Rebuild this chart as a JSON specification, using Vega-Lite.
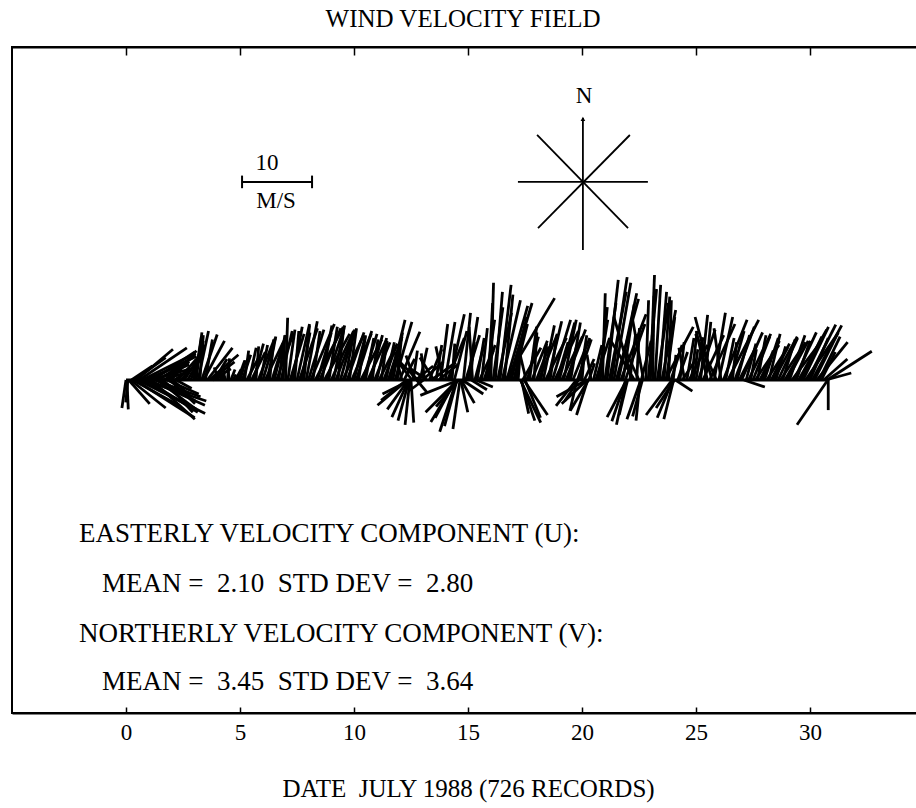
{
"$schema": "https://vega.github.io/schema/vega-lite/v6.json",
"width": 912, "height": 666,
"autosize": "none",
"padding": {"left": 12, "top": 47, "right": 0, "bottom": 95},
"background": "white",
"config": {"view": {"stroke": "black", "strokeWidth": 2}, "font": "Liberation Serif"},
"title": {"text": "WIND VELOCITY FIELD", "font": "Liberation Serif", "fontSize": 25, "fontWeight": "normal", "color": "black", "anchor": "middle", "offset": 14, "dx": -5},
"data": {"values": [{}]},
"datasets": {"sticks": [
{"t":0.00,"e":-0.18,"v":-4.0},{"t":0.04,"e":0.10,"v":-4.2},{"t":0.08,"e":-0.01,"v":-3.2},
{"t":0.12,"e":1.04,"v":-3.4},{"t":0.20,"e":1.74,"v":-4.0},{"t":0.30,"e":2.30,"v":-3.6},{"t":0.40,"e":3.01,"v":-5.4},
{"t":0.52,"e":3.47,"v":-4.8},{"t":0.64,"e":3.10,"v":-4.2},{"t":0.76,"e":3.52,"v":-3.0},{"t":0.88,"e":3.15,"v":-4.6},
{"t":1.00,"e":3.46,"v":-3.6},{"t":1.12,"e":3.02,"v":-5.6},{"t":1.24,"e":3.27,"v":-2.4},{"t":1.36,"e":3.08,"v":-4.2},
{"t":1.50,"e":3.04,"v":-3.0},{"t":1.64,"e":2.93,"v":-4.6},{"t":1.78,"e":3.19,"v":-2.0},{"t":1.92,"e":3.03,"v":-3.4},
{"t":2.06,"e":2.86,"v":-2.4},{"t":2.20,"e":2.88,"v":-1.2},
{"t":0.24,"e":1.16,"v":2.0},{"t":0.36,"e":1.74,"v":3.2},{"t":0.46,"e":2.06,"v":4.4},{"t":0.58,"e":2.67,"v":4.6},
{"t":0.70,"e":3.03,"v":3.8},{"t":0.82,"e":2.78,"v":2.6},{"t":0.94,"e":3.09,"v":3.4},{"t":1.06,"e":2.84,"v":1.6},
{"t":1.18,"e":3.02,"v":4.0},{"t":1.30,"e":2.77,"v":2.2},{"t":1.42,"e":3.02,"v":3.4},{"t":1.56,"e":2.79,"v":1.2},
{"t":1.70,"e":3.05,"v":3.8},{"t":1.84,"e":2.76,"v":2.6},{"t":1.98,"e":3.09,"v":4.2},{"t":2.12,"e":2.86,"v":1.6},
{"t":2.28,"e":3.20,"v":3.4},{"t":2.42,"e":3.10,"v":2.4},{"t":2.56,"e":3.42,"v":4.4},{"t":2.70,"e":3.25,"v":3.0},
{"t":2.84,"e":3.45,"v":5.0},{"t":2.96,"e":3.39,"v":5.6},
{"t":3.00,"e":3.31,"v":6.2},{"t":3.08,"e":3.33,"v":6.8},
{"t":3.16,"e":3.62,"v":7.0},{"t":3.24,"e":3.39,"v":6.4},{"t":3.32,"e":4.00,"v":6.5},{"t":3.40,"e":4.32,"v":5.6},
{"t":3.48,"e":3.79,"v":5.8},{"t":3.56,"e":4.67,"v":4.6},{"t":3.64,"e":4.93,"v":3.6},{"t":3.72,"e":4.76,"v":2.6},
{"t":3.80,"e":4.60,"v":1.6},{"t":3.88,"e":4.43,"v":3.0},{"t":3.96,"e":4.33,"v":1.0},{"t":4.05,"e":3.87,"v":1.8},
{"t":4.15,"e":4.30,"v":1.0},{"t":4.25,"e":4.31,"v":0.6},{"t":4.35,"e":4.23,"v":2.0},{"t":4.45,"e":4.54,"v":3.1},
{"t":4.52,"e":4.46,"v":2.4},{"t":4.60,"e":4.78,"v":1.5},{"t":4.70,"e":4.82,"v":0.8},{"t":4.80,"e":5.05,"v":1.5},
{"t":4.90,"e":5.21,"v":2.8},
{"t":5.0,"e":5.25,"v":2.8},{"t":5.1,"e":5.47,"v":3.6},{"t":5.2,"e":5.38,"v":4.2},{"t":5.3,"e":5.85,"v":3.4},
{"t":5.4,"e":5.71,"v":4.6},{"t":5.5,"e":6.11,"v":4.0},{"t":5.6,"e":6.03,"v":5.2},{"t":5.7,"e":5.82,"v":4.8},
{"t":5.8,"e":6.48,"v":5.6},{"t":5.9,"e":6.21,"v":5.0},{"t":6.0,"e":6.55,"v":6.0},{"t":6.1,"e":6.90,"v":5.4},
{"t":6.2,"e":6.57,"v":6.2},{"t":6.3,"e":6.48,"v":5.8},{"t":6.4,"e":7.01,"v":6.4},{"t":6.5,"e":6.93,"v":5.6},
{"t":6.6,"e":7.34,"v":6.6},{"t":6.7,"e":6.95,"v":6.0},{"t":6.8,"e":7.29,"v":7.0},{"t":6.9,"e":6.96,"v":6.4},
{"t":7.0,"e":7.09,"v":8.9},{"t":7.1,"e":7.41,"v":7.2},{"t":7.2,"e":7.81,"v":6.6},{"t":7.3,"e":7.73,"v":7.6},
{"t":7.4,"e":7.58,"v":7.0},{"t":7.5,"e":8.05,"v":8.0},{"t":7.6,"e":8.40,"v":7.4},{"t":7.7,"e":8.07,"v":6.8},
{"t":7.8,"e":8.05,"v":7.8},{"t":7.9,"e":8.39,"v":8.4},{"t":8.0,"e":8.68,"v":7.2},{"t":8.1,"e":9.14,"v":8.0},
{"t":8.2,"e":8.51,"v":7.0},{"t":8.3,"e":9.53,"v":7.6},{"t":8.4,"e":9.01,"v":6.8},{"t":8.5,"e":9.42,"v":7.4},
{"t":8.6,"e":9.03,"v":7.8},{"t":8.7,"e":9.81,"v":6.6},{"t":8.8,"e":9.54,"v":7.2},{"t":8.9,"e":9.27,"v":7.6},
{"t":9.0,"e":9.98,"v":7.0},{"t":9.1,"e":9.59,"v":7.8},{"t":9.2,"e":10.00,"v":6.8},{"t":9.3,"e":9.55,"v":7.4},
{"t":9.4,"e":10.01,"v":7.0},{"t":9.5,"e":10.42,"v":6.4},{"t":9.6,"e":10.03,"v":7.2},{"t":9.7,"e":10.44,"v":6.8},
{"t":9.8,"e":10.11,"v":7.4},{"t":9.9,"e":10.76,"v":6.6},{"t":10.0,"e":10.49,"v":6.2},{"t":10.1,"e":10.78,"v":7.0},
{"t":10.2,"e":10.51,"v":6.4},{"t":10.3,"e":11.22,"v":5.8},{"t":10.4,"e":11.01,"v":6.6},{"t":10.5,"e":10.87,"v":6.0},
{"t":10.6,"e":11.40,"v":5.6},{"t":10.7,"e":11.25,"v":6.4},{"t":10.8,"e":11.05,"v":5.8},{"t":10.9,"e":11.58,"v":5.4},
{"t":11.0,"e":11.43,"v":6.0},{"t":11.1,"e":11.90,"v":5.2},{"t":11.2,"e":11.45,"v":5.6},{"t":11.3,"e":11.85,"v":4.8},
{"t":11.4,"e":11.77,"v":5.4},{"t":11.5,"e":12.11,"v":6.2},{"t":11.6,"e":12.24,"v":8.6},{"t":11.7,"e":12.13,"v":6.8},
{"t":11.8,"e":12.54,"v":8.3},{"t":11.9,"e":12.08,"v":6.0},{"t":12.0,"e":12.89,"v":6.9},
{"t":12.1,"e":11.79,"v":4.0},{"t":12.2,"e":12.66,"v":3.0},{"t":12.3,"e":11.19,"v":-2.9},{"t":12.35,"e":11.03,"v":-3.6},
{"t":12.38,"e":11.46,"v":-4.2},{"t":12.4,"e":11.66,"v":-5.3},{"t":12.42,"e":11.93,"v":-5.8},{"t":12.45,"e":12.24,"v":-6.4},
{"t":12.48,"e":11.25,"v":-2.0},{"t":12.5,"e":12.62,"v":-6.1},{"t":12.55,"e":11.94,"v":2.5},
{"t":12.6,"e":12.78,"v":4.2},{"t":12.65,"e":12.28,"v":3.5},{"t":12.7,"e":13.47,"v":2.0},{"t":12.75,"e":13.21,"v":-1.8},
{"t":12.8,"e":11.88,"v":3.0},{"t":12.9,"e":13.21,"v":4.6},{"t":13.0,"e":13.92,"v":2.6},{"t":13.05,"e":12.44,"v":-1.5},
{"t":13.1,"e":12.95,"v":3.8},{"t":13.2,"e":12.40,"v":1.8},{"t":13.3,"e":13.85,"v":4.4},{"t":13.4,"e":14.47,"v":2.5},
{"t":13.5,"e":12.89,"v":3.2},{"t":13.6,"e":13.85,"v":5.0},{"t":13.7,"e":14.56,"v":2.2},{"t":13.8,"e":14.11,"v":8.0},
{"t":13.9,"e":13.59,"v":4.8},{"t":14.0,"e":14.43,"v":8.3},{"t":14.1,"e":14.84,"v":6.0},{"t":14.2,"e":14.84,"v":9.4},
{"t":14.3,"e":14.42,"v":5.2},{"t":14.4,"e":14.95,"v":7.0},{"t":14.45,"e":13.56,"v":-5.4},{"t":14.48,"e":13.37,"v":-6.0},
{"t":14.5,"e":13.76,"v":-7.4},{"t":14.52,"e":13.97,"v":-6.6},
{"t":14.55,"e":13.14,"v":-4.6},{"t":14.58,"e":13.60,"v":-3.8},{"t":14.6,"e":12.91,"v":-2.2},{"t":14.65,"e":14.34,"v":-7.0},
{"t":14.68,"e":14.99,"v":-4.6},{"t":14.7,"e":15.28,"v":-3.3},
{"t":14.75,"e":15.67,"v":-2.0},{"t":14.8,"e":15.11,"v":9.6},{"t":14.9,"e":15.51,"v":6.4},{"t":15.0,"e":15.43,"v":9.0},
{"t":15.1,"e":15.28,"v":5.4},{"t":15.15,"e":15.83,"v":-1.4},{"t":15.2,"e":15.05,"v":7.6},{"t":15.3,"e":15.67,"v":4.6},
{"t":15.35,"e":16.09,"v":-1.0},
{"t":15.4,"e":15.71,"v":6.0},{"t":15.5,"e":16.11,"v":4.2},{"t":15.6,"e":15.85,"v":7.4},{"t":15.7,"e":16.19,"v":5.0},
{"t":15.8,"e":16.17,"v":8.6},{"t":15.9,"e":16.08,"v":11.0},{"t":16.0,"e":16.12,"v":13.9},{"t":16.1,"e":16.53,"v":10.4},
{"t":16.2,"e":16.51,"v":12.6},{"t":16.3,"e":16.91,"v":9.6},{"t":16.4,"e":16.89,"v":13.6},{"t":16.5,"e":17.30,"v":11.4},
{"t":16.6,"e":16.97,"v":12.2},{"t":16.65,"e":18.80,"v":11.7},{"t":16.7,"e":17.62,"v":10.6},{"t":16.8,"e":17.81,"v":11.0},
{"t":16.9,"e":17.58,"v":9.0},{"t":17.0,"e":17.61,"v":8.0},{"t":17.1,"e":17.41,"v":6.4},{"t":17.2,"e":17.32,"v":5.0},
{"t":17.3,"e":18.19,"v":-6.1},{"t":17.32,"e":17.93,"v":-5.8},{"t":17.35,"e":17.66,"v":-4.8},{"t":17.4,"e":18.20,"v":4.6},
{"t":17.45,"e":18.49,"v":-5.0},{"t":17.5,"e":18.18,"v":-5.4},
{"t":17.55,"e":17.30,"v":3.4},{"t":17.6,"e":18.09,"v":6.2},
{"t":17.7,"e":18.01,"v":7.6},{"t":17.8,"e":18.48,"v":5.6},{"t":17.9,"e":18.02,"v":6.8},{"t":18.0,"e":18.55,"v":4.8},
{"t":18.1,"e":18.90,"v":6.4},{"t":18.2,"e":18.45,"v":5.2},{"t":18.3,"e":18.79,"v":7.8},{"t":18.4,"e":19.32,"v":6.0},
{"t":18.5,"e":19.11,"v":8.4},{"t":18.6,"e":18.91,"v":6.6},{"t":18.7,"e":19.50,"v":8.6},{"t":18.8,"e":19.84,"v":7.0},
{"t":18.9,"e":19.39,"v":5.4},{"t":19.0,"e":19.68,"v":8.2},{"t":19.1,"e":20.02,"v":6.2},{"t":19.2,"e":19.75,"v":8.6},
{"t":19.3,"e":20.16,"v":7.2},{"t":19.4,"e":19.77,"v":5.0},{"t":19.5,"e":19.93,"v":8.2},{"t":19.6,"e":20.34,"v":6.0},
{"t":19.75,"e":18.86,"v":-3.7},{"t":19.78,"e":19.47,"v":-4.4},{"t":19.8,"e":20.41,"v":5.8},{"t":19.85,"e":19.24,"v":-3.0},{"t":19.9,"e":20.21,"v":6.4},
{"t":20.0,"e":20.12,"v":4.4},{"t":20.1,"e":20.53,"v":3.0},{"t":20.2,"e":18.88,"v":-2.4},{"t":20.22,"e":19.11,"v":-3.4},
{"t":20.25,"e":19.76,"v":-5.0},{"t":20.28,"e":19.48,"v":-4.4},
{"t":20.3,"e":20.55,"v":2.4},{"t":20.4,"e":20.22,"v":3.6},{"t":20.5,"e":20.87,"v":5.0},
{"t":20.6,"e":21.21,"v":6.0},{"t":20.7,"e":21.13,"v":8.6},{"t":20.8,"e":21.11,"v":10.4},{"t":20.9,"e":21.02,"v":12.4},
{"t":21.0,"e":21.49,"v":11.0},{"t":21.1,"e":21.59,"v":14.3},{"t":21.2,"e":21.94,"v":12.6},{"t":21.3,"e":21.98,"v":14.7},
{"t":21.4,"e":22.14,"v":13.9},{"t":21.5,"e":22.48,"v":11.6},{"t":21.6,"e":22.40,"v":12.4},{"t":21.7,"e":22.81,"v":9.4},
{"t":21.8,"e":22.29,"v":10.8},{"t":21.9,"e":22.76,"v":8.0},{"t":21.92,"e":21.31,"v":-5.9},{"t":21.94,"e":21.51,"v":-6.4},
{"t":21.96,"e":21.10,"v":-5.3},
{"t":22.0,"e":21.63,"v":-5.0},{"t":22.1,"e":22.35,"v":6.6},{"t":22.2,"e":21.40,"v":9.0},{"t":22.3,"e":21.19,"v":6.0},
{"t":22.4,"e":22.52,"v":7.4},{"t":22.5,"e":21.82,"v":4.8},{"t":22.55,"e":22.37,"v":-5.8},{"t":22.58,"e":21.97,"v":-5.6},
{"t":22.6,"e":23.03,"v":5.6},
{"t":22.65,"e":22.22,"v":-5.2},{"t":22.7,"e":22.21,"v":8.8},{"t":22.8,"e":22.92,"v":11.4},{"t":22.9,"e":23.27,"v":13.0},
{"t":23.0,"e":23.18,"v":15.0},{"t":23.1,"e":23.16,"v":12.0},{"t":23.2,"e":23.45,"v":13.6},{"t":23.3,"e":23.79,"v":11.0},
{"t":23.4,"e":23.71,"v":12.6},{"t":23.5,"e":24.11,"v":10.0},{"t":23.6,"e":23.85,"v":11.9},{"t":23.65,"e":24.88,"v":7.6},
{"t":23.7,"e":24.07,"v":9.0},{"t":23.8,"e":23.92,"v":11.4},{"t":23.9,"e":24.39,"v":5.0},{"t":23.95,"e":22.81,"v":-5.0},
{"t":23.98,"e":23.30,"v":-5.4},
{"t":24.0,"e":24.12,"v":3.6},{"t":24.02,"e":23.59,"v":-5.6},{"t":24.05,"e":23.25,"v":-4.0},{"t":24.1,"e":24.84,"v":-1.6},
{"t":24.2,"e":24.63,"v":4.0},{"t":24.3,"e":24.48,"v":5.4},{"t":24.4,"e":25.01,"v":3.0},{"t":24.5,"e":24.25,"v":4.6},
{"t":24.6,"e":24.91,"v":6.0},{"t":24.7,"e":25.50,"v":5.0},{"t":24.8,"e":25.05,"v":7.0},{"t":24.9,"e":25.08,"v":4.4},
{"t":25.0,"e":25.31,"v":6.1},{"t":25.1,"e":25.84,"v":7.2},{"t":25.2,"e":25.51,"v":9.3},{"t":25.3,"e":26.22,"v":6.4},
{"t":25.4,"e":25.65,"v":8.3},{"t":25.5,"e":25.01,"v":7.0},{"t":25.6,"e":26.71,"v":8.0},{"t":25.7,"e":24.96,"v":9.0},
{"t":25.8,"e":26.29,"v":9.6},{"t":25.9,"e":24.98,"v":6.6},{"t":26.0,"e":26.61,"v":9.0},{"t":26.1,"e":25.79,"v":7.4},
{"t":26.2,"e":27.24,"v":8.6},{"t":26.3,"e":26.67,"v":6.0},{"t":26.4,"e":27.75,"v":8.6},{"t":26.5,"e":27.11,"v":7.0},
{"t":26.6,"e":26.78,"v":5.4},{"t":26.7,"e":27.56,"v":7.6},{"t":26.8,"e":27.35,"v":6.4},{"t":26.9,"e":27.64,"v":4.8},
{"t":27.0,"e":27.92,"v":6.8},{"t":27.1,"e":28.02,"v":-1.0},{"t":27.2,"e":27.63,"v":5.2},{"t":27.3,"e":28.28,"v":6.6},
{"t":27.4,"e":27.65,"v":4.4},{"t":27.5,"e":28.24,"v":6.2},{"t":27.6,"e":28.64,"v":5.0},{"t":27.7,"e":28.07,"v":6.4},
{"t":27.8,"e":28.66,"v":5.6},{"t":27.9,"e":28.39,"v":4.2},
{"t":28.0,"e":28.61,"v":6.0},{"t":28.1,"e":29.02,"v":4.6},{"t":28.2,"e":28.69,"v":6.6},{"t":28.3,"e":29.10,"v":5.2},
{"t":28.4,"e":29.44,"v":6.2},{"t":28.5,"e":28.93,"v":4.8},{"t":28.6,"e":29.46,"v":6.0},{"t":28.7,"e":29.81,"v":5.4},
{"t":28.8,"e":29.35,"v":5.8},{"t":28.9,"e":29.64,"v":4.2},{"t":29.0,"e":29.92,"v":5.6},{"t":29.1,"e":29.78,"v":6.4},
{"t":29.2,"e":30.37,"v":5.0},{"t":29.3,"e":30.28,"v":6.8},{"t":29.4,"e":30.01,"v":5.6},{"t":29.5,"e":30.73,"v":7.2},
{"t":29.6,"e":30.52,"v":6.2},{"t":29.7,"e":30.81,"v":7.6},{"t":29.8,"e":31.21,"v":6.6},{"t":29.9,"e":31.13,"v":7.9},
{"t":30.0,"e":30.80,"v":6.0},{"t":30.1,"e":31.39,"v":7.8},{"t":30.2,"e":31.24,"v":6.8},{"t":30.3,"e":31.65,"v":5.4},
{"t":30.4,"e":31.32,"v":6.2},{"t":30.5,"e":31.11,"v":4.0},{"t":30.6,"e":31.64,"v":3.0},{"t":30.7,"e":31.81,"v":1.0},
{"t":30.75,"e":32.71,"v":4.1},{"t":30.78,"e":29.43,"v":-6.4},{"t":30.8,"e":30.80,"v":-4.3}
]},
"resolve": {"axis": {"x": "independent", "y": "independent"}},
"layer": [
{
 "data": {"name": "sticks"},
 "mark": {"type": "rule", "color": "black", "strokeWidth": 2.8},
 "encoding": {
  "x": {"field": "e", "type": "quantitative",
        "scale": {"domain": [-5, 35], "nice": false, "zero": false},
        "axis": {"orient": "bottom", "values": [0,5,10,15,20,25,30], "tickSize": -6, "tickWidth": 1.5, "tickColor": "black",
                 "domainColor": "black", "domainWidth": 2, "grid": false, "labelFont": "Liberation Serif", "labelFontSize": 23,
                 "labelColor": "black", "labelPadding": 14, "labelFlush": false, "labelBound": false,
                 "title": "DATE\u00a0 JULY 1988 (726 RECORDS)", "titleFont": "Liberation Serif", "titleFontSize": 25,
                 "titleFontWeight": "normal", "titleColor": "black", "titlePadding": 32}},
  "x2": {"field": "t"},
  "y": {"field": "v", "type": "quantitative", "scale": {"domain": [-47.57, 47.57], "nice": false, "zero": false}, "axis": null},
  "y2": {"datum": 0}
 }
},
{
 "mark": {"type": "rule", "color": "black", "strokeWidth": 3},
 "encoding": {
  "x": {"datum": 0, "type": "quantitative",
        "axis": {"orient": "top", "values": [0,5,10,15,20,25,30], "tickSize": -8, "tickWidth": 1.5, "tickColor": "black",
                 "domainColor": "black", "domainWidth": 2, "grid": false, "labels": false, "title": null}},
  "x2": {"datum": 30.8},
  "y": {"datum": 0, "type": "quantitative", "axis": null}
 }
},
{
 "mark": {"type": "rule", "color": "black", "strokeWidth": 2},
 "encoding": {
  "x": {"datum": 5.09, "type": "quantitative", "axis": null}, "x2": {"datum": 8.16},
  "y": {"datum": 28.29, "type": "quantitative", "axis": null}
 }
},
{
 "mark": {"type": "rule", "color": "black", "strokeWidth": 2},
 "encoding": {
  "x": {"datum": 5.09, "type": "quantitative", "axis": null},
  "y": {"datum": 27.4, "type": "quantitative", "axis": null}, "y2": {"datum": 29.2}
 }
},
{
 "mark": {"type": "rule", "color": "black", "strokeWidth": 2},
 "encoding": {
  "x": {"datum": 8.16, "type": "quantitative", "axis": null},
  "y": {"datum": 27.4, "type": "quantitative", "axis": null}, "y2": {"datum": 29.2}
 }
},
{
 "mark": {"type": "rule", "color": "black", "strokeWidth": 1.8},
 "encoding": {
  "x": {"datum": 17.19, "type": "quantitative", "axis": null}, "x2": {"datum": 22.89},
  "y": {"datum": 28.29, "type": "quantitative", "axis": null}
 }
},
{
 "mark": {"type": "rule", "color": "black", "strokeWidth": 1.8},
 "encoding": {
  "x": {"datum": 20.04, "type": "quantitative", "axis": null},
  "y": {"datum": 18.57, "type": "quantitative", "axis": null}, "y2": {"datum": 37.43}
 }
},
{
 "mark": {"type": "rule", "color": "black", "strokeWidth": 1.8},
 "encoding": {
  "x": {"datum": 18.03, "type": "quantitative", "axis": null}, "x2": {"datum": 22.02},
  "y": {"datum": 35.0, "type": "quantitative", "axis": null}, "y2": {"datum": 21.71}
 }
},
{
 "mark": {"type": "rule", "color": "black", "strokeWidth": 1.8},
 "encoding": {
  "x": {"datum": 22.10, "type": "quantitative", "axis": null}, "x2": {"datum": 18.07},
  "y": {"datum": 35.0, "type": "quantitative", "axis": null}, "y2": {"datum": 21.71}
 }
},
{
 "mark": {"type": "point", "shape": "triangle-up", "filled": true, "color": "black", "size": 22, "opacity": 1},
 "encoding": {
  "x": {"datum": 20.04, "type": "quantitative", "axis": null},
  "y": {"datum": 37.3, "type": "quantitative", "axis": null}
 }
},
{
 "mark": {"type": "text", "text": "N", "align": "center", "baseline": "alphabetic", "font": "Liberation Serif", "fontSize": 23, "color": "black"},
 "encoding": {
  "x": {"datum": 20.09, "type": "quantitative", "axis": null},
  "y": {"datum": 39.57, "type": "quantitative", "axis": null}
 }
},
{
 "mark": {"type": "text", "text": "10", "align": "center", "baseline": "alphabetic", "font": "Liberation Serif", "fontSize": 23, "color": "black"},
 "encoding": {
  "x": {"datum": 6.18, "type": "quantitative", "axis": null},
  "y": {"datum": 30.0, "type": "quantitative", "axis": null}
 }
},
{
 "mark": {"type": "text", "text": "M/S", "align": "center", "baseline": "alphabetic", "font": "Liberation Serif", "fontSize": 23, "color": "black"},
 "encoding": {
  "x": {"datum": 6.58, "type": "quantitative", "axis": null},
  "y": {"datum": 24.57, "type": "quantitative", "axis": null}
 }
},
{
 "mark": {"type": "text", "text": "EASTERLY VELOCITY COMPONENT (U):", "align": "left", "baseline": "alphabetic", "font": "Liberation Serif", "fontSize": 27, "color": "black"},
 "encoding": {
  "x": {"datum": -2.06, "type": "quantitative", "axis": null},
  "y": {"datum": -23.14, "type": "quantitative", "axis": null}
 }
},
{
 "mark": {"type": "text", "text": "MEAN =\u00a0 2.10\u00a0 STD DEV =\u00a0 2.80", "align": "left", "baseline": "alphabetic", "font": "Liberation Serif", "fontSize": 27, "color": "black"},
 "encoding": {
  "x": {"datum": -1.05, "type": "quantitative", "axis": null},
  "y": {"datum": -30.29, "type": "quantitative", "axis": null}
 }
},
{
 "mark": {"type": "text", "text": "NORTHERLY VELOCITY COMPONENT (V):", "align": "left", "baseline": "alphabetic", "font": "Liberation Serif", "fontSize": 27, "color": "black"},
 "encoding": {
  "x": {"datum": -2.06, "type": "quantitative", "axis": null},
  "y": {"datum": -37.43, "type": "quantitative", "axis": null}
 }
},
{
 "mark": {"type": "text", "text": "MEAN =\u00a0 3.45\u00a0 STD DEV =\u00a0 3.64", "align": "left", "baseline": "alphabetic", "font": "Liberation Serif", "fontSize": 27, "color": "black"},
 "encoding": {
  "x": {"datum": -1.05, "type": "quantitative", "axis": null},
  "y": {"datum": -44.29, "type": "quantitative", "axis": null}
 }
}
]
}
